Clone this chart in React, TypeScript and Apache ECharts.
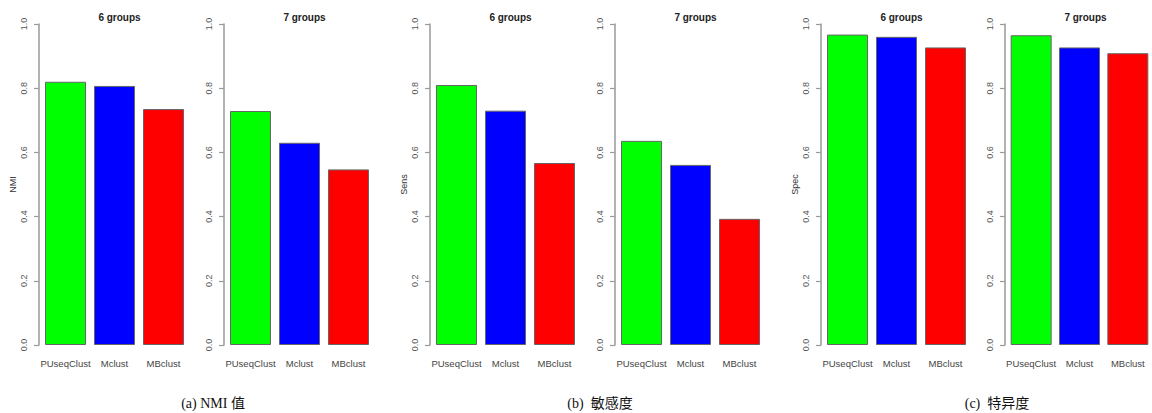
import React, { useEffect, useRef } from "react";
import * as echarts from "echarts";

const categories = ["PUseqClust", "Mclust", "MBclust"];
const barColors = ["#00ff00", "#0000ff", "#ff0000"];

const nmi6 = [0.82, 0.807, 0.735];
const nmi7 = [0.729, 0.63, 0.547];
const sens6 = [0.81, 0.73, 0.567];
const sens7 = [0.636, 0.561, 0.393];
const spec6 = [0.967, 0.96, 0.927];
const spec7 = [0.965, 0.927, 0.909];

const panelTitles = ["6 groups", "7 groups", "6 groups", "7 groups", "6 groups", "7 groups"];
const yNames = ["NMI", "", "Sens", "", "Spec", ""];
const panelData = [nmi6, nmi7, sens6, sens7, spec6, spec7];
const captions = ["(a) NMI 值", "(b)  敏感度", "(c)  特异度"];

const gridLefts = [41, 226, 432, 617, 823, 1007];
const captionCenters = [208, 595, 992];

export default function App() {
  const ref = useRef<HTMLDivElement>(null);
  useEffect(() => {
    if (!ref.current) return;
    const chart = echarts.init(ref.current, null, { renderer: "svg" });
    const GW = 147;
    const grids = gridLefts.map((l) => ({ left: l, top: 24, width: GW, height: 321 }));
    const xAxes = gridLefts.map((_, i) => ({
      type: "category",
      gridIndex: i,
      data: categories,
      axisLine: { show: false },
      axisTick: { show: false },
      axisLabel: {
        interval: 0,
        margin: 13,
        fontSize: 9.5,
        color: "#444",
        fontFamily: "Liberation Sans, Arial, sans-serif",
      },
    }));
    const yAxes = gridLefts.map((_, i) => ({
      type: "value",
      gridIndex: i,
      min: 0,
      max: 1,
      interval: 0.2,
      offset: 2,
      name: yNames[i],
      nameLocation: "middle",
      nameRotate: 90,
      nameGap: 22,
      nameTextStyle: {
        fontSize: 9,
        color: "#333",
        fontFamily: "Liberation Sans, Arial, sans-serif",
      },
      splitLine: { show: false },
      axisLine: { show: true, lineStyle: { color: "#999", width: 1.5 } },
      axisTick: { show: true, length: 5, lineStyle: { color: "#999", width: 1.2 } },
      axisLabel: {
        rotate: 90,
        margin: 11,
        fontSize: 9,
        color: "#555",
        fontFamily: "Liberation Sans, Arial, sans-serif",
        formatter: (v: number) => v.toFixed(1),
      },
    }));
    const series = panelData.map((d, i) => ({
      type: "bar",
      xAxisIndex: i,
      yAxisIndex: i,
      barWidth: 41,
      data: d.map((v, j) => ({
        value: v,
        itemStyle: { color: barColors[j], borderColor: "#666", borderWidth: 1 },
      })),
    }));
    const titles: any[] = panelTitles.map((t, i) => ({
      text: t,
      left: gridLefts[i] + GW / 2,
      top: 7,
      textAlign: "center",
      textStyle: {
        fontSize: 10,
        fontWeight: "bold",
        color: "#222",
        fontFamily: "Liberation Sans, Arial, sans-serif",
      },
    }));
    captions.forEach((c, i) => {
      titles.push({
        text: c,
        left: captionCenters[i],
        top: 391,
        textAlign: "center",
        textStyle: {
          fontSize: 14,
          fontWeight: "normal",
          color: "#111",
          fontFamily: "Liberation Serif, Times New Roman, Noto Sans CJK SC, serif",
        },
      });
    });
    chart.setOption({
      animation: false,
      backgroundColor: "#ffffff",
      title: titles,
      grid: grids,
      xAxis: xAxes,
      yAxis: yAxes,
      series,
    });
    return () => chart.dispose();
  }, []);
  return (
    <div
      ref={ref}
      style={{ position: "fixed", left: 0, top: 0, width: 1152, height: 413 }}
    />
  );
}
